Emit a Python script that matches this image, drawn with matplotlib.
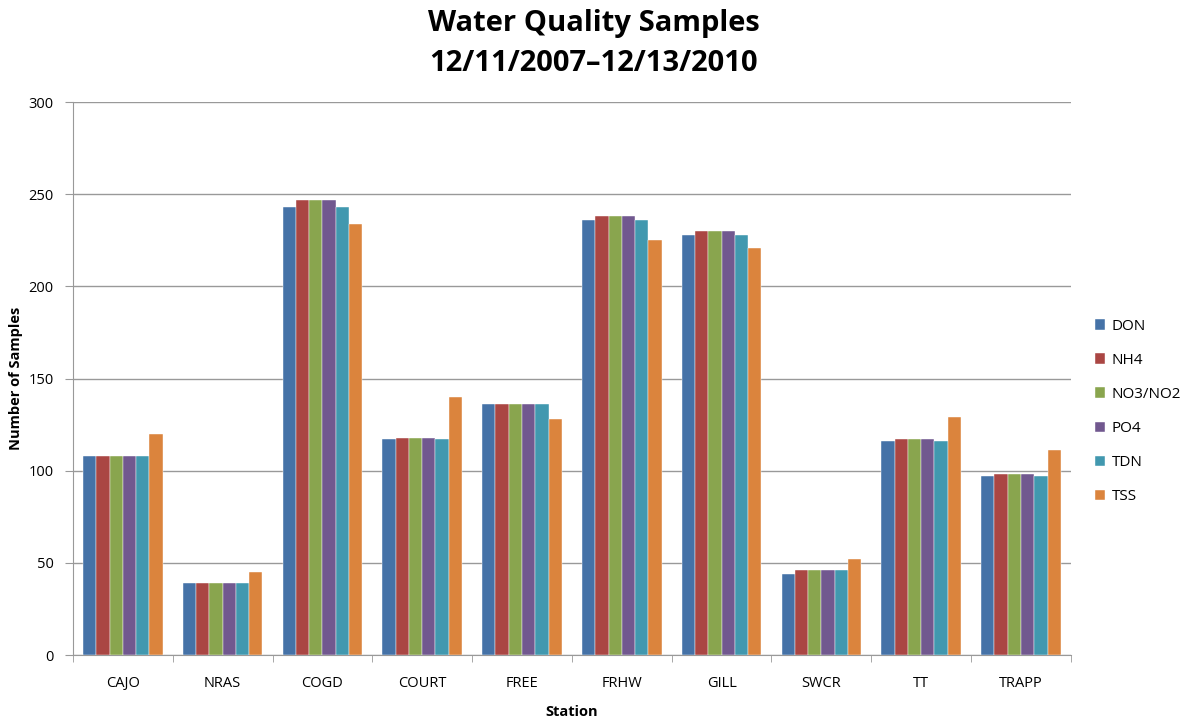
import numpy as np
import matplotlib.pyplot as plt
from matplotlib import font_manager

stations = ['CAJO', 'NRAS', 'COGD', 'COURT', 'FREE', 'FRHW', 'GILL', 'SWCR', 'TT', 'TRAPP']
series = ['DON', 'NH4', 'NO3/NO2', 'PO4', 'TDN', 'TSS']
colors = ['#4572A7', '#AA4643', '#89A54E', '#71588F', '#4198AF', '#DB843D']

DON = [108, 39, 243, 117, 136, 236, 228, 44, 116, 97]
NH4 = [108, 39, 247, 118, 136, 238, 230, 46, 117, 98]
NO3_NO2 = [108, 39, 247, 118, 136, 238, 230, 46, 117, 98]
PO4 = [108, 39, 247, 118, 136, 238, 230, 46, 117, 98]
TDN = [108, 39, 243, 117, 136, 236, 228, 46, 116, 97]
TSS = [120, 45, 234, 140, 128, 225, 221, 52, 129, 111]
values = [DON, NH4, NO3_NO2, PO4, TDN, TSS]

# 字体: 尽量用窄体近似 Calibri
names = {f.name for f in font_manager.fontManager.ttflist}
narrow = 'Liberation Sans Narrow' if 'Liberation Sans Narrow' in names else 'Open Sans'
plt.rcParams['font.family'] = ['Open Sans', 'DejaVu Sans']

fig = plt.figure(figsize=(11.88, 7.19), dpi=100)
ax = fig.add_axes([0.0614, 0.089, 0.840, 0.769])

x = np.arange(len(stations))
w = 0.133
for i, (name, vals) in enumerate(zip(series, values)):
    ax.bar(x + (i - 2.5) * w, vals, width=w, color=colors[i], label=name,
           edgecolor='white', linewidth=0.3, zorder=3)

ax.set_xlim(-0.5, len(stations) - 0.5)
ax.set_ylim(0, 300)
ax.set_yticks(np.arange(0, 301, 50))
ax.set_xticks(x)
ax.set_xticklabels(stations)
ax.set_xticks(np.arange(-0.5, len(stations), 1), minor=True)
ax.tick_params(axis='x', which='major', length=0, labelsize=10.5, pad=15)
ax.tick_params(axis='x', which='minor', length=5, color='#999999')
ax.tick_params(axis='y', length=6, color='#999999', labelsize=10.5, pad=8)
ax.grid(axis='y', color='#999999', linewidth=1, zorder=0)
for s in ['top', 'right']:
    ax.spines[s].set_visible(False)
for s in ['left', 'bottom']:
    ax.spines[s].set_color('#999999')

ax.set_xlabel('Station', fontsize=10.5, fontweight='bold', labelpad=10)
ax.set_ylabel('Number of Samples', fontsize=10.5, fontweight='bold', labelpad=4)

fig.suptitle('Water Quality Samples\n12/11/2007\u201312/13/2010', fontsize=21,
             fontweight='bold', family=[narrow, 'DejaVu Sans'], y=0.988,
             linespacing=1.5)

ax.legend(loc='center left', bbox_to_anchor=(1.01, 0.44), frameon=False,
          fontsize=11, handlelength=0.7, handleheight=0.7, labelspacing=1.25,
          handletextpad=0.4)

fig.savefig('out.png', dpi=100)
